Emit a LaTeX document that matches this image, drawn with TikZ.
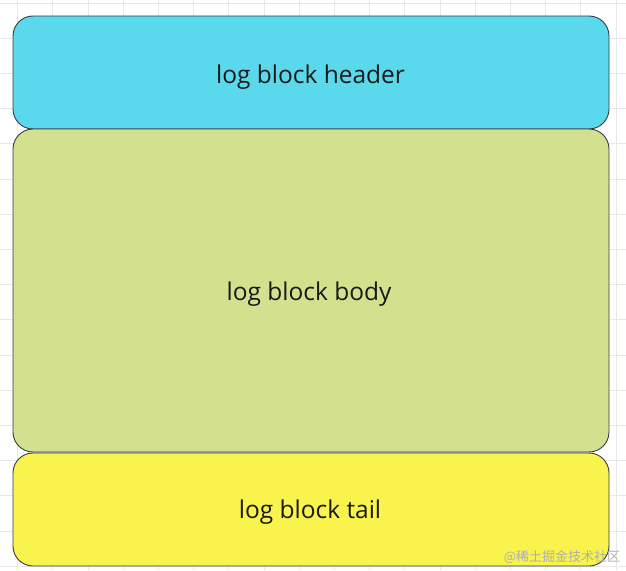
\documentclass[tikz,border=0pt]{standalone}
\usepackage{fontspec}
\setmainfont{Open Sans}
\newfontfamily\cjk{Noto Sans CJK SC}
\definecolor{gridc}{RGB}{232,232,232}
\definecolor{headc}{RGB}{91,217,236}
\definecolor{bodyc}{RGB}{211,224,142}
\definecolor{tailc}{RGB}{249,243,78}
\definecolor{edgec}{RGB}{50,60,70}
\definecolor{txtc}{RGB}{25,25,25}
\definecolor{wmc}{RGB}{175,175,175}
\tikzset{
  blockbox/.style={draw=edgec, line width=0.9pt, rounded corners=20pt},
  blocklabel/.style={font=\fontsize{24.5}{28}\selectfont, text=txtc, inner sep=0pt, anchor=base}
}
\begin{document}
\begin{tikzpicture}[x=1pt,y=-1pt]
\useasboundingbox (0,0) rectangle (626,570);
\fill[white] (0,0) rectangle (626,570);
\foreach \k in {0,...,17} {
  \draw[gridc, line width=0.8pt] ({17.5+35.2*\k},0) -- ({17.5+35.2*\k},570);
  \draw[gridc, line width=0.8pt] (0,{3+35.2*\k}) -- (626,{3+35.2*\k});
}
\filldraw[blockbox, fill=headc] (13,16) rectangle (609,129);
\filldraw[blockbox, fill=bodyc] (13,129) rectangle (609,452);
\filldraw[blockbox, fill=tailc] (13,453) rectangle (609,566);
\node[blocklabel] (header) at (310.5,83) {log block header};
\node[blocklabel] (body) at (309,300) {log block body};
\node[blocklabel] (tail) at (310,518) {log block tail};
\node[font=\cjk\fontsize{13}{15}\selectfont, text=wmc, inner sep=0pt] (wm) at (562,557) {@稀土掘金技术社区};
\end{tikzpicture}
\end{document}
